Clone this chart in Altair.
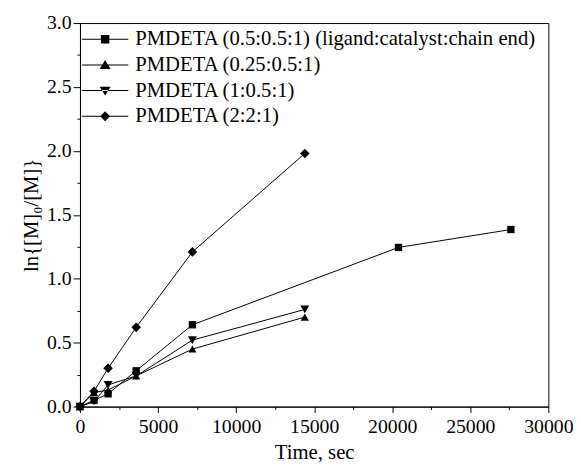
import altair as alt
import pandas as pd

series = [
    "PMDETA (0.5:0.5:1) (ligand:catalyst:chain end)",
    "PMDETA (0.25:0.5:1)",
    "PMDETA (1:0.5:1)",
    "PMDETA (2:2:1)",
]

t_sq = [0, 900, 1800, 3600, 7200, 20400, 27600]
v_sq = [0, 0.05, 0.10, 0.28, 0.64, 1.245, 1.385]
t_up = [0, 900, 1800, 3600, 7200, 14400]
v_up = [0, 0.11, 0.13, 0.24, 0.45, 0.70]
t_dn = [0, 900, 1800, 3600, 7200, 14400]
v_dn = [0, 0.04, 0.17, 0.24, 0.52, 0.76]
t_di = [0, 900, 1800, 3600, 7200, 14400]
v_di = [0, 0.12, 0.30, 0.62, 1.21, 1.98]

shapes = ["square", "triangle-up", "triangle-down", "diamond"]
marker_sizes = [55, 95, 95, 95]
LINE = "M-4.7,-0.1H4.7V0.1H-4.7Z"
legend_paths = [
    LINE + "M-0.85,-0.85H0.85V0.85H-0.85Z",
    LINE + "M0,-1.0L1.1,0.8H-1.1Z",
    LINE + "M0,1.0L1.1,-0.8H-1.1Z",
    LINE + "M0,-1.0L1.0,0L0,1.0L-1.0,0Z",
]

rows = []
for name, ts, vs in zip(series, [t_sq, t_up, t_dn, t_di], [v_sq, v_up, v_dn, v_di]):
    for t, v in zip(ts, vs):
        rows.append({"series": name, "lseries": name, "t": t, "v": v})
df = pd.DataFrame(rows)

FONT = "Liberation Serif"
x_major = list(range(0, 30001, 5000))
x_minor = list(range(2500, 30000, 5000))
y_major = [0.0, 0.5, 1.0, 1.5, 2.0, 2.5, 3.0]
y_minor = [0.25, 0.75, 1.25, 1.75, 2.25, 2.75]

xscale = alt.Scale(domain=[0, 30000], nice=False, zero=False)
yscale = alt.Scale(domain=[0, 3], nice=False)

xaxis = alt.Axis(
    values=x_major, format="d", orient="bottom", tickSize=6, labelFlush=False,
    title="Time, sec", labelOverlap=False, labelPadding=4, titlePadding=6,
    labelFont=FONT, titleFont=FONT, labelColor="black", titleColor="black",
    labelFontSize=20, titleFontSize=21, titleFontWeight="normal",
)
yaxis = alt.Axis(
    values=y_major, format=".1f", orient="left", tickSize=7, labelFlush=False,
    title="ln{[M]₀/[M]}", labelOverlap=False, labelPadding=2, titlePadding=5,
    labelFont=FONT, titleFont=FONT, labelColor="black", titleColor="black",
    labelFontSize=20, titleFontSize=21, titleFontWeight="normal",
)
xaxis_minor = alt.Axis(values=x_minor, orient="bottom", tickSize=3, labels=False,
                       domain=False, title=None)
yaxis_minor = alt.Axis(values=y_minor, orient="left", tickSize=3, labels=False,
                       domain=False, title=None)

base = alt.Chart(df)
lines = base.mark_line(color="black", strokeWidth=1).encode(
    x=alt.X("t:Q", scale=xscale, axis=xaxis),
    y=alt.Y("v:Q", scale=yscale, axis=yaxis),
    detail="series:N",
)
points = base.mark_point(filled=True, color="black", opacity=1).encode(
    x=alt.X("t:Q", axis=xaxis_minor),
    y=alt.Y("v:Q", axis=yaxis_minor),
    shape=alt.Shape("series:N", scale=alt.Scale(domain=series, range=shapes), legend=None),
    size=alt.Size("series:N", scale=alt.Scale(domain=series, range=marker_sizes), legend=None),
)
legend_layer = base.transform_filter("false").mark_point(
    filled=True, color="black", opacity=1
).encode(
    x=alt.X("t:Q", axis=None),
    y=alt.Y("v:Q", axis=None),
    shape=alt.Shape(
        "lseries:N",
        scale=alt.Scale(domain=series, range=legend_paths),
        legend=alt.Legend(
            title=None, orient="none", legendX=15, legendY=6,
            symbolSize=100, symbolFillColor="black", symbolStrokeWidth=0,
            symbolOpacity=1,
            labelOffset=20, labelFont=FONT, labelFontSize=21,
            labelColor="black", rowPadding=4, labelLimit=600,
        ),
    ),
)

chart = alt.layer(lines, points, legend_layer).resolve_scale(
    shape="independent", size="independent"
).resolve_axis(x="independent", y="independent").properties(
    width=475, height=389,
    autosize=alt.AutoSizeParams(type="none"),
    padding={"left": 73, "top": 12, "right": 25, "bottom": 59},
).configure_view(stroke="black", strokeWidth=1).configure_axis(
    labelFont=FONT, titleFont=FONT,
    labelColor="black", titleColor="black",
    domainColor="black", tickColor="black", grid=False, domainWidth=1, tickWidth=1,
)

chart.save("out.html", embed_options={"renderer": "svg", "actions": False})
